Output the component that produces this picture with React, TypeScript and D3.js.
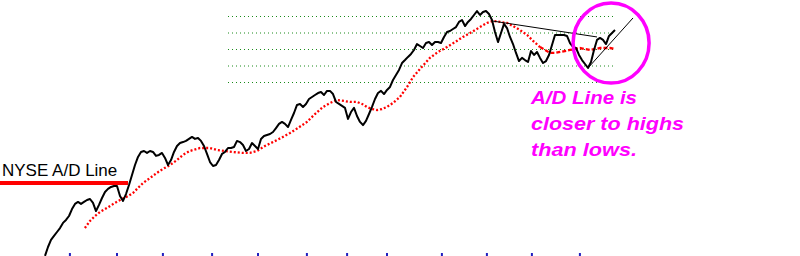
import React from "react";
import * as d3 from "d3";

// ---- Data (weekly index, A/D line level in thousands) ----
const adWeeks: number[] = d3.range(0, 191);
const adValues: number[] = [
  -45.4, -40.0, -35.7, -33.3, -30.9, -28.5, -25.4, -23.6, -21.2, -17.0,
  -13.9, -12.7, -13.9, -12.7, -11.5, -10.9, -13.3, -18.2, -14.5, -10.3,
  -6.7, -4.8, -3.6, -3.0, -3.0, -9.1, -12.1, -7.9, -2.4, 3.6,
  9.7, 14.6, 17.6, 18.2, 17.0, 18.2, 17.6, 15.2, 15.8, 17.0,
  14.0, 9.7, 12.7, 17.6, 21.2, 23.0, 23.6, 24.3, 25.5, 26.7,
  25.5, 26.1, 24.3, 21.2, 16.4, 11.5, 9.1, 9.7, 12.7, 16.4,
  17.6, 20.0, 20.0, 20.6, 24.3, 23.6, 21.8, 18.2, 19.4, 23.0,
  21.2, 19.4, 25.5, 27.3, 27.9, 28.5, 29.7, 32.1, 34.6, 35.8,
  34.6, 32.7, 37.0, 41.2, 46.1, 46.7, 44.9, 46.7, 49.7, 50.9,
  52.1, 53.3, 53.9, 52.1, 54.6, 54.6, 52.7, 47.9, 46.7, 45.5,
  44.3, 37.6, 41.8, 44.3, 39.4, 35.8, 33.9, 36.4, 40.6, 44.9,
  49.7, 53.3, 54.6, 52.7, 55.2, 57.0, 61.2, 64.2, 67.3, 71.5,
  73.3, 75.2, 77.0, 79.4, 83.0, 81.8, 80.6, 83.6, 84.2, 82.4,
  84.2, 84.2, 83.6, 87.3, 90.3, 90.9, 92.1, 93.3, 96.4, 97.6,
  93.9, 96.4, 98.2, 100.6, 103.0, 100.6, 102.4, 103.0, 101.2, 97.6,
  90.3, 84.2, 89.7, 95.2, 92.7, 87.3, 83.0, 77.6, 72.7, 74.6,
  73.3, 72.1, 78.8, 76.4, 78.2, 74.6, 71.5, 72.7, 76.4, 82.4,
  88.5, 88.5, 88.5, 88.5, 87.9, 83.6, 81.2, 80.6, 76.4, 73.3,
  70.9, 68.5, 72.1, 79.4, 85.5, 86.7, 85.5, 83.0, 87.9, 89.7,
  91.5,
];

const maWeeks: number[] = [
  13.3, 15, 16.7, 18.3, 20.7, 23.3, 25.7, 27.7, 29.3, 31, 32.7, 35, 37.3, 39.3,
  41.7, 44, 46, 48.3, 51.7, 55, 57.3, 60, 62.7, 65.7, 68.3, 70.7, 73.3, 76,
  78.7, 81.7, 84.3, 87.3, 90, 92.7, 95, 97.3, 99.7, 101.7, 104, 105.7, 107.3,
  109, 110.7, 112.3, 114, 116, 118.3, 120.7, 122.7, 125, 128.3, 131, 134,
  136.7, 139.3, 142.3, 145, 147.3, 149.3, 151.7, 154, 156, 158.3, 160.7, 162.7,
  165, 166.7, 168.3, 170, 171.7, 175, 178.3, 181.7, 185, 188.3, 190,
];
const maValues: number[] = [
  -28.5, -24.2, -21.2, -18.8, -16.3, -13.3, -10.9, -9.1, -7.3, -4.2, -1.2, 1.8,
  4.9, 7.3, 9.7, 12.7, 15.8, 18.2, 20.0, 20.0, 18.8, 18.2, 17.6, 17.0, 17.0,
  18.2, 21.2, 23.6, 26.1, 29.1, 32.1, 35.8, 40.6, 44.9, 47.3, 49.1, 48.5, 47.9,
  47.9, 46.7, 44.9, 43.6, 43.0, 43.6, 44.9, 47.3, 50.9, 57.0, 63.0, 67.9, 74.6,
  78.2, 81.2, 84.2, 87.3, 90.3, 93.3, 95.8, 97.0, 96.4, 95.8, 93.9, 91.5, 88.5,
  84.9, 81.2, 79.4, 77.6, 77.6, 78.2, 79.4, 80.6, 79.4, 80.6, 80.6, 80.0,
];

const gridLevels: number[] = [60, 70, 80, 90, 100];
const gridStartWeek = 61;
const gridEndWeek = 190;

// Trendlines: [week1, value1, week2, value2]
const trendHighs: number[] = [149, 97.0, 184, 87.3];
const trendLows: number[] = [181, 68.5, 196, 98.8];

const circleCenter: number[] = [188.7, 83.6];

const tickWeeks: number[] = [8.3, 24, 39.3, 55.7, 71, 87.3, 100.7, 114, 132.3, 147.3, 162.3, 178.3];

const legendLabel = "NYSE A/D Line";
const noteLines: string[] = ["A/D Line is", "closer to highs", "than lows."];

const W = 800;
const H = 256;

export default function App() {
  const x = d3.scaleLinear().domain([0, 190]).range([45, 615]);
  const y = d3.scaleLinear().domain([60, 100]).range([82, 16]);

  const line = d3
    .line<[number, number]>()
    .x((d) => x(d[0]))
    .y((d) => y(d[1]));

  const adPts: [number, number][] = adWeeks.map((w, i) => [w, adValues[i]]);
  const maPts: [number, number][] = maWeeks.map((w, i) => [w, maValues[i]]);
  const maSplit = maWeeks.findIndex((w) => w >= 165);
  const maA = maPts.slice(0, maSplit + 1);
  const maB = maPts.slice(maSplit);

  const noteWidths = [106, 153, 106];
  const noteBase = [104, 130, 156];

  return (
    <div style={{ position: "fixed", left: 0, top: 0 }}>
      <svg width={W} height={H} style={{ display: "block", background: "#fff" }}>
        {gridLevels.map((g) => (
          <line
            key={g}
            x1={x(gridStartWeek)}
            x2={x(gridEndWeek)}
            y1={y(g) + 0.5}
            y2={y(g) + 0.5}
            stroke="#1a8a1a"
            strokeWidth={1}
            strokeDasharray="1 3"
          />
        ))}
        <path d={line(maA) || ""} fill="none" stroke="#ff0000" strokeWidth={2.3} strokeDasharray="2 2" />
        <path d={line(maB) || ""} fill="none" stroke="#ff0000" strokeWidth={2.3} strokeDasharray="4 2" />
        <path d={line(adPts) || ""} fill="none" stroke="#000" strokeWidth={2} strokeLinejoin="round" />
        <line
          x1={x(trendHighs[0])}
          y1={y(trendHighs[1])}
          x2={x(trendHighs[2])}
          y2={y(trendHighs[3])}
          stroke="#000"
          strokeWidth={1}
        />
        <line
          x1={x(trendLows[0])}
          y1={y(trendLows[1])}
          x2={x(trendLows[2])}
          y2={y(trendLows[3])}
          stroke="#000"
          strokeWidth={1}
        />
        <ellipse
          cx={x(circleCenter[0])}
          cy={y(circleCenter[1])}
          rx={38}
          ry={40}
          fill="none"
          stroke="#ff00ff"
          strokeWidth={3.5}
        />
        <text
          x={2}
          y={176}
          fontFamily="'Liberation Sans', Arial, sans-serif"
          fontSize={17}
          fill="#000"
        >
          {legendLabel}
        </text>
        <rect x={0} y={181} width={128} height={4} fill="#ff0000" />
        {noteLines.map((t, i) => (
          <text
            key={t}
            x={531}
            y={noteBase[i]}
            fontFamily="'Liberation Sans', Arial, sans-serif"
            fontWeight="bold"
            fontStyle="italic"
            fontSize={17.5}
            fill="#ff00ff"
            textLength={noteWidths[i]}
            lengthAdjust="spacingAndGlyphs"
          >
            {t}
          </text>
        ))}
        {tickWeeks.map((w) => (
          <rect key={w} x={x(w) - 1} y={253} width={2} height={3} fill="#2020c0" />
        ))}
      </svg>
    </div>
  );
}
